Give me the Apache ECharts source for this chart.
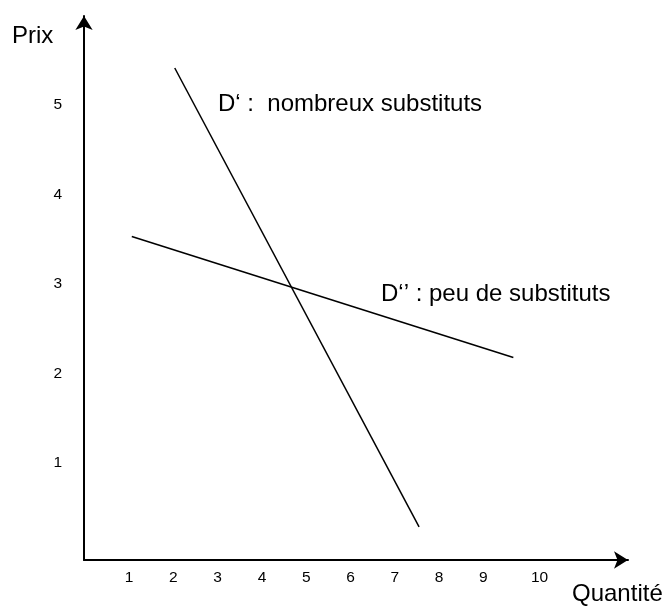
<!DOCTYPE html>
<html>
<head>
<meta charset="utf-8">
<script src="https://cdn.jsdelivr.net/npm/echarts@6/dist/echarts.min.js"></script>
<style>html,body{margin:0;padding:0;background:#fff}#c{width:667px;height:606px}</style>
</head>
<body>
<div id="c"></div>
<script>
// Data
var xTicks = [1, 2, 3, 4, 5, 6, 7, 8, 9, 10];
var yTicks = [1, 2, 3, 4, 5];
var dPrime = [[2.03, 5.41], [7.55, 0.29]];        // D' : nombreux substituts
var dSecond = [[1.06, 3.53], [9.68, 2.18]];       // D'' : peu de substituts
var labelDPrime = 'D\u2018 :  nombreux substituts';
var labelDSecond = 'D\u2018\u2019 : peu de substituts';
var yName = 'Prix';
var xName = 'Quantit\u00e9';

var font = 'Arial, "Liberation Sans", Helvetica, sans-serif';
var chart = echarts.init(document.getElementById('c'), null, {renderer: 'canvas'});
chart.setOption({
  animation: false,
  backgroundColor: '#fff',
  grid: {left: 84, right: 39, top: 16, bottom: 46},
  xAxis: {
    type: 'value', min: -0.02, max: 12.27,
    splitLine: {show: false},
    axisTick: {show: false},
    axisLine: {onZero: false, lineStyle: {color: '#000', width: 2}, symbol: ['none', 'arrow'], symbolSize: [13, 14]},
    axisLabel: {
      customValues: xTicks, margin: 10, color: '#000', fontSize: 15.5, fontFamily: font,
      formatter: function (v) { return v === 10 ? '{s|10}' : String(v); },
      rich: {s: {padding: [0, 0, 0, 24], fontSize: 15.5, fontFamily: font, color: '#000'}}
    }
  },
  yAxis: {
    type: 'value', min: -0.08, max: 5.99,
    splitLine: {show: false},
    axisTick: {show: false},
    axisLine: {onZero: false, lineStyle: {color: '#000', width: 2}, symbol: ['none', 'arrow'], symbolSize: [13, 14]},
    axisLabel: {customValues: yTicks, margin: 22, color: '#000', fontSize: 15.5, fontFamily: font}
  },
  series: [
    {type: 'line', data: dPrime, symbol: 'none', lineStyle: {color: '#000', width: 1.5}},
    {type: 'line', data: dSecond, symbol: 'none', lineStyle: {color: '#000', width: 1.5}}
  ],
  graphic: [
    {type: 'text', left: 12, top: 24, style: {text: yName, font: '24px ' + font, fill: '#000'}},
    {type: 'text', left: 572, top: 582, style: {text: xName, font: '24px ' + font, fill: '#000'}},
    {type: 'text', left: 218, top: 92, style: {text: labelDPrime, font: '24px ' + font, fill: '#000'}},
    {type: 'text', left: 381, top: 282, style: {text: labelDSecond, font: '24px ' + font, fill: '#000'}}
  ]
});
</script>
</body>
</html>
